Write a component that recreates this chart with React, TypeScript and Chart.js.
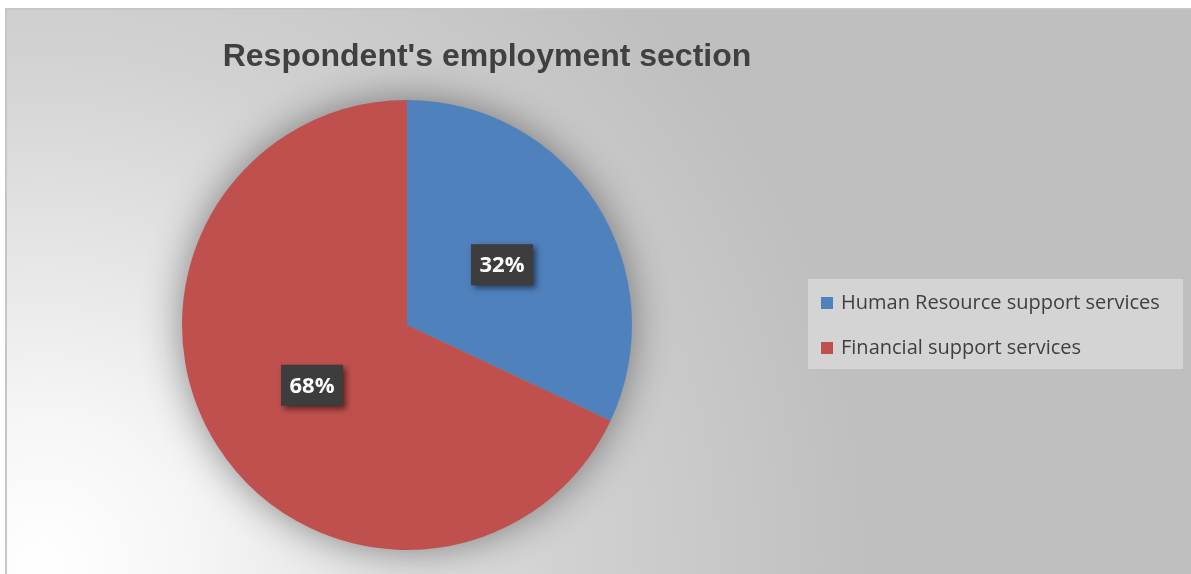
import React, { useEffect, useRef } from "react";
import { Chart, registerables } from "chart.js";

Chart.register(...registerables);

const chartTitle = "Respondent's employment section";
const categories = ["Human Resource support services", "Financial support services"];
const values = [32, 68];
const percentLabels = ["32%", "68%"];
const sliceColors = ["#4f81bd", "#c0504d"];

export default function App() {
  const canvasRef = useRef<HTMLCanvasElement | null>(null);

  useEffect(() => {
    const canvas = canvasRef.current;
    if (!canvas) return;

    const shadowPlugin = {
      id: "pieShadow",
      beforeDatasetsDraw(chart: any) {
        const arc = chart.getDatasetMeta(0).data[0];
        if (!arc) return;
        const { x, y, outerRadius } = arc.getProps(["x", "y", "outerRadius"], true);
        const ctx = chart.ctx;
        ctx.save();
        ctx.shadowColor = "rgba(0,0,0,0.45)";
        ctx.shadowBlur = 40;
        ctx.fillStyle = "#999999";
        ctx.beginPath();
        ctx.arc(x, y, outerRadius - 1, 0, Math.PI * 2);
        ctx.fill();
        ctx.restore();
      },
    };

    const decorPlugin = {
      id: "excelDecor",
      afterDatasetsDraw(chart: any) {
        const ctx = chart.ctx;
        const meta = chart.getDatasetMeta(0);
        ctx.save();
        ctx.font = "bold 22px 'Open Sans'";
        ctx.textAlign = "center";
        ctx.textBaseline = "middle";
        meta.data.forEach((arc: any, i: number) => {
          const p = arc.tooltipPosition(true);
          const text = percentLabels[i];
          const w = 62;
          const h = 41;
          ctx.save();
          ctx.shadowColor = "rgba(0,0,0,0.55)";
          ctx.shadowBlur = 6;
          ctx.shadowOffsetX = 3;
          ctx.shadowOffsetY = 3;
          ctx.fillStyle = "#3d3d3d";
          ctx.fillRect(p.x - w / 2, p.y - h / 2, w, h);
          ctx.restore();
          ctx.fillStyle = "#ffffff";
          ctx.fillText(text, p.x, p.y + 1);
        });
        ctx.restore();
      },
      afterDraw(chart: any) {
        const ctx = chart.ctx;
        ctx.save();
        ctx.font = "bold 32px 'Liberation Sans'";
        ctx.fillStyle = "#404040";
        ctx.textAlign = "center";
        ctx.textBaseline = "alphabetic";
        ctx.fillText(chartTitle, 487, 66);
        ctx.fillStyle = "#d4d4d4";
        ctx.fillRect(808, 279, 375, 90);
        ctx.font = "20px 'Open Sans'";
        ctx.textAlign = "left";
        const labels: string[] = chart.data.labels;
        labels.forEach((lab, i) => {
          const cy = 303 + i * 45;
          ctx.fillStyle = sliceColors[i];
          ctx.fillRect(821, cy - 6, 12, 12);
          ctx.fillStyle = "#404040";
          ctx.textBaseline = "middle";
          ctx.fillText(lab, 841, cy);
        });
        ctx.restore();
      },
    };

    const chart = new Chart(canvas, {
      type: "pie",
      data: {
        labels: categories,
        datasets: [
          {
            data: values,
            backgroundColor: sliceColors,
            borderWidth: 0,
          },
        ],
      },
      options: {
        animation: false,
        responsive: false,
        maintainAspectRatio: false,
        layout: { padding: { left: 182, right: 559, top: 100, bottom: 24 } },
        plugins: {
          legend: { display: false },
          title: { display: false },
          tooltip: { enabled: false },
        },
      },
      plugins: [shadowPlugin, decorPlugin],
    });
    return () => chart.destroy();
  }, []);

  return (
    <div
      style={{
        position: "fixed",
        left: 0,
        top: 0,
        width: 1191,
        height: 574,
        overflow: "hidden",
        background: "#ffffff",
      }}
    >
      <div
        style={{
          position: "absolute",
          left: 5,
          top: 8,
          width: 1220,
          height: 620,
          border: "2px solid #c6c6c6",
          background:
            "radial-gradient(circle 820px at 35px 555px, #ffffff 0%, #f6f6f6 18%, #d2d2d2 62%, #bfbfbf 100%)",
        }}
      />
      <canvas
        ref={canvasRef}
        width={1191}
        height={574}
        style={{ position: "absolute", left: 0, top: 0, width: 1191, height: 574 }}
      />
    </div>
  );
}
